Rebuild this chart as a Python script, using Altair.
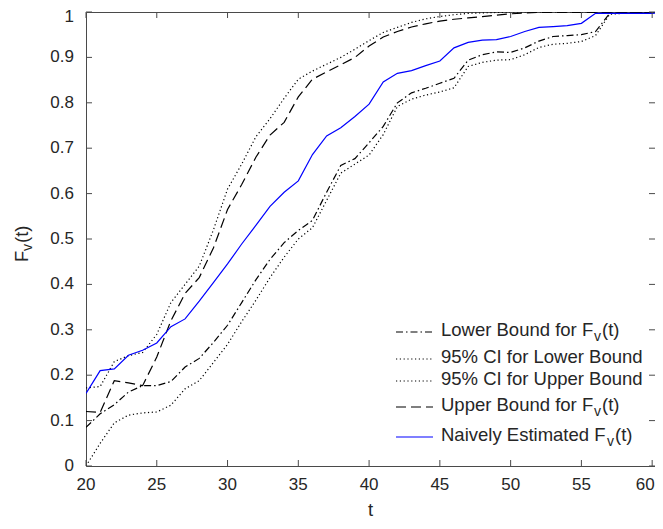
import altair as alt
import pandas as pd

# ---------------- data ----------------
t_values = list(range(20, 62))

lower_bound = [0.085, 0.115, 0.135, 0.163, 0.177, 0.177, 0.186, 0.218, 0.237, 0.272,
               0.31, 0.36, 0.41, 0.455, 0.492, 0.519, 0.541, 0.603, 0.662, 0.677,
               0.712, 0.748, 0.800, 0.822, 0.832, 0.843, 0.854, 0.894, 0.906, 0.912,
               0.911, 0.921, 0.936, 0.946, 0.948, 0.95, 0.957, 0.997, 0.998, 0.999,
               0.999, 1.0]

ci_lower = [0.0, 0.05, 0.095, 0.112, 0.117, 0.119, 0.134, 0.17, 0.188, 0.228,
            0.268, 0.318, 0.365, 0.415, 0.46, 0.50, 0.525, 0.585, 0.645, 0.665,
            0.685, 0.73, 0.792, 0.808, 0.817, 0.824, 0.833, 0.88, 0.889, 0.894,
            0.895, 0.906, 0.922, 0.929, 0.931, 0.935, 0.948, 0.995, 0.997, 0.998,
            0.999, 1.0]

ci_upper = [0.172, 0.175, 0.23, 0.243, 0.25, 0.29, 0.36, 0.40, 0.44, 0.52,
            0.61, 0.665, 0.725, 0.765, 0.81, 0.852, 0.87, 0.885, 0.90, 0.918,
            0.937, 0.955, 0.966, 0.977, 0.985, 0.99, 0.994, 0.997, 0.998, 0.999,
            1.0, 1.0, 1.0, 1.0, 1.0, 1.0, 1.0, 1.0, 1.0, 1.0,
            1.0, 1.0]

upper_bound = [0.12, 0.118, 0.188, 0.183, 0.177, 0.24, 0.32, 0.38, 0.415, 0.48,
               0.565, 0.62, 0.68, 0.729, 0.757, 0.813, 0.852, 0.868, 0.884, 0.90,
               0.925, 0.945, 0.957, 0.967, 0.974, 0.98, 0.984, 0.987, 0.99, 0.993,
               0.996, 0.998, 0.999, 0.999, 0.999, 0.999, 0.999, 0.999, 0.999, 0.999,
               0.999, 0.999]

naive = [0.16, 0.21, 0.214, 0.244, 0.255, 0.271, 0.307, 0.324, 0.363, 0.404,
         0.445, 0.489, 0.53, 0.572, 0.603, 0.628, 0.686, 0.727, 0.745, 0.77,
         0.797, 0.846, 0.865, 0.871, 0.882, 0.892, 0.921, 0.933, 0.938, 0.939,
         0.946, 0.957, 0.966, 0.968, 0.970, 0.975, 0.997, 0.997, 0.997, 0.997,
         0.997, 1.0]

x_ticks = [20, 25, 30, 35, 40, 45, 50, 55, 60]
x_tick_labels = ["20", "25", "30", "35", "40", "45", "50", "55", "60"]
y_ticks = [0, 0.1, 0.2, 0.3, 0.4, 0.5, 0.6, 0.7, 0.8, 0.9, 1]
y_tick_labels = ["0", "0.1", "0.2", "0.3", "0.4", "0.5", "0.6", "0.7", "0.8", "0.9", "1"]

legend_main = ["Lower Bound for F", "95% CI for Lower Bound", "95% CI for Upper Bound",
               "Upper Bound for F", "Naively Estimated F"]
legend_sub = ["v", "", "", "v", "v"]
legend_tail = ["(t)", "", "", "(t)", "(t)"]

# ---------------- styling ----------------
W, H = 569, 454
FONT = "Liberation Sans"
AX = "#4a4a4a"
TXT = "#262626"
DASHDOT = [7, 3, 1.5, 3]
DOTTED = [1.2, 2.6]
DASHED = [10, 5]

df = pd.DataFrame({"t": t_values, "lower": lower_bound, "ci_lower": ci_lower,
                   "ci_upper": ci_upper, "upper": upper_bound, "naive": naive})

xs = alt.Scale(domain=[20, 60.2], nice=False, zero=False)
ys = alt.Scale(domain=[0, 1], nice=False, zero=False)

base = alt.Chart(df)


def series(field, dash, color):
    mk = dict(color=color, strokeWidth=1.2, clip=True)
    if dash:
        mk["strokeDash"] = dash
    return base.mark_line(**mk).encode(
        x=alt.X("t:Q", scale=xs, axis=None),
        y=alt.Y(f"{field}:Q", scale=ys, axis=None),
    )


lines = [
    series("ci_lower", DOTTED, "#000000"),
    series("ci_upper", DOTTED, "#000000"),
    series("lower", DASHDOT, "#000000"),
    series("upper", DASHED, "#000000"),
    series("naive", None, "#0000ff"),
]

# inward ticks (box style) and tick labels
xdf = pd.DataFrame({"v": x_ticks, "lab": x_tick_labels})
ydf = pd.DataFrame({"v": y_ticks, "lab": y_tick_labels})
xt = alt.Chart(xdf)
yt = alt.Chart(ydf)
tick_layers = [
    xt.mark_rule(color=AX, strokeWidth=1).encode(
        x=alt.X("v:Q", scale=xs, axis=None), y=alt.value(H), y2=alt.value(H - 6)),
    xt.mark_rule(color=AX, strokeWidth=1).encode(
        x=alt.X("v:Q", scale=xs, axis=None), y=alt.value(0), y2=alt.value(6)),
    yt.mark_rule(color=AX, strokeWidth=1).encode(
        y=alt.Y("v:Q", scale=ys, axis=None), x=alt.value(0), x2=alt.value(6)),
    yt.mark_rule(color=AX, strokeWidth=1).encode(
        y=alt.Y("v:Q", scale=ys, axis=None), x=alt.value(W), x2=alt.value(W - 6)),
    # x tick labels (last one nudged inside the page)
    xt.transform_filter("datum.v < 60").mark_text(
        font=FONT, fontSize=17, color=TXT, align="center", baseline="middle").encode(
        x=alt.X("v:Q", scale=xs, axis=None), y=alt.value(H + 19), text="lab:N"),
    xt.transform_filter("datum.v >= 60").mark_text(
        font=FONT, fontSize=17, color=TXT, align="center", baseline="middle", dx=-7).encode(
        x=alt.X("v:Q", scale=xs, axis=None), y=alt.value(H + 19), text="lab:N"),
    # y tick labels (top one nudged down so it is not cut)
    yt.transform_filter("datum.v < 1").mark_text(
        font=FONT, fontSize=17, color=TXT, align="right", baseline="middle").encode(
        y=alt.Y("v:Q", scale=ys, axis=None), x=alt.value(-12), text="lab:N"),
    yt.transform_filter("datum.v >= 1").mark_text(
        font=FONT, fontSize=17, color=TXT, align="right", baseline="middle", dy=5).encode(
        y=alt.Y("v:Q", scale=ys, axis=None), x=alt.value(-12), text="lab:N"),
]

one = alt.Chart(pd.DataFrame({"k": [0]}))

# x-axis title
xtitle = one.mark_text(font=FONT, fontSize=18.5, color=TXT, align="center",
                       baseline="middle").encode(
    x=alt.value(W / 2), y=alt.value(H + 44), text=alt.value("t"))

# manual legend (to allow subscripts)
row_y = [320, 347, 369, 395, 425]
row_dash = [DASHDOT, DOTTED, DOTTED, DASHED, None]
row_color = ["#000000", "#000000", "#000000", "#000000", "#0000ff"]
main_w = [153, 0, 0, 153, 166]
LX0, LX1, TX = 310, 347, 355
legend_layers = []
for i in range(5):
    mk = dict(color=row_color[i], strokeWidth=1.2)
    if row_dash[i]:
        mk["strokeDash"] = row_dash[i]
    legend_layers.append(one.mark_rule(**mk).encode(
        x=alt.value(LX0), x2=alt.value(LX1), y=alt.value(row_y[i])))
    legend_layers.append(one.mark_text(align="left", baseline="middle", font=FONT,
                                       fontSize=18.5, color=TXT).encode(
        x=alt.value(TX), y=alt.value(row_y[i] - 2), text=alt.value(legend_main[i])))
    if legend_sub[i]:
        legend_layers.append(one.mark_text(align="left", baseline="middle", font=FONT,
                                           fontSize=14, color=TXT).encode(
            x=alt.value(TX + main_w[i]), y=alt.value(row_y[i] + 5),
            text=alt.value(legend_sub[i])))
        legend_layers.append(one.mark_text(align="left", baseline="middle", font=FONT,
                                           fontSize=18.5, color=TXT).encode(
            x=alt.value(TX + main_w[i] + 8), y=alt.value(row_y[i] - 2),
            text=alt.value(legend_tail[i])))

# y-axis title F_v(t), rotated
ytitle = [
    one.mark_text(align="left", baseline="middle", font=FONT, fontSize=18.5,
                  color=TXT, angle=270).encode(
        x=alt.value(-64), y=alt.value(250), text=alt.value("F")),
    one.mark_text(align="left", baseline="middle", font=FONT, fontSize=14,
                  color=TXT, angle=270).encode(
        x=alt.value(-58), y=alt.value(239), text=alt.value("v")),
    one.mark_text(align="left", baseline="middle", font=FONT, fontSize=18.5,
                  color=TXT, angle=270).encode(
        x=alt.value(-64), y=alt.value(231), text=alt.value("(t)")),
]

chart = alt.layer(*lines, *tick_layers, xtitle, *legend_layers, *ytitle).properties(
    width=W, height=H,
    padding={"left": 78, "top": 4, "right": 0, "bottom": 55},
    autosize=alt.AutoSizeParams(type="none"),
    background="white",
).configure_view(stroke=AX, strokeWidth=1)

chart.save("out.html", embed_options={"renderer": "svg", "actions": False})
